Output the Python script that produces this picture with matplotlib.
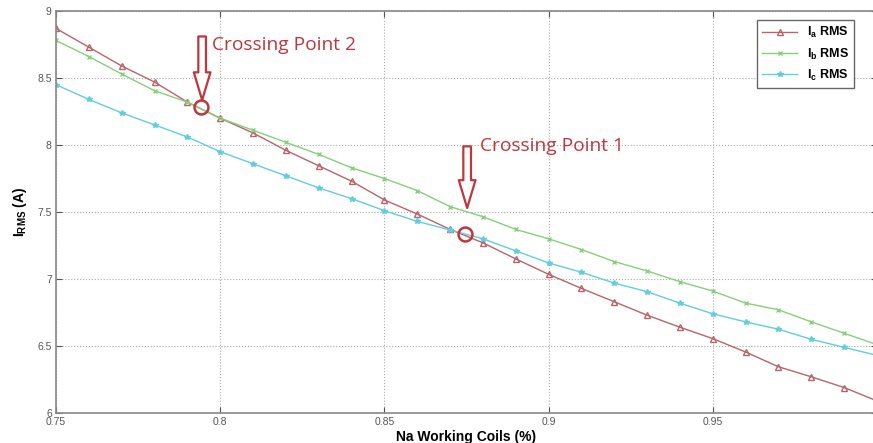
import matplotlib
matplotlib.use("Agg")
import matplotlib.pyplot as plt
import numpy as np

plt.rcParams['font.family'] = ['Liberation Sans', 'DejaVu Sans']
plt.rcParams['mathtext.fontset'] = 'custom'
plt.rcParams['mathtext.rm'] = 'Liberation Sans'
plt.rcParams['mathtext.bf'] = 'Liberation Sans:bold'
plt.rcParams['mathtext.it'] = 'Liberation Sans:italic'

x = [0.75, 0.76, 0.77, 0.78, 0.79, 0.80, 0.81, 0.82, 0.83, 0.84, 0.85, 0.86, 0.87,
     0.88, 0.89, 0.90, 0.91, 0.92, 0.93, 0.94, 0.95, 0.96, 0.97, 0.98, 0.99, 1.00]
ia = [8.87, 8.73, 8.59, 8.47, 8.32, 8.20, 8.09, 7.96, 7.845, 7.73, 7.59, 7.485, 7.37,
      7.27, 7.15, 7.035, 6.93, 6.83, 6.73, 6.64, 6.555, 6.455, 6.345, 6.27, 6.19, 6.09]
ib = [8.78, 8.66, 8.53, 8.405, 8.32, 8.20, 8.11, 8.02, 7.93, 7.83, 7.75, 7.66, 7.54,
      7.465, 7.37, 7.30, 7.22, 7.13, 7.06, 6.98, 6.91, 6.82, 6.77, 6.68, 6.595, 6.51]
ic = [8.45, 8.34, 8.24, 8.15, 8.06, 7.95, 7.86, 7.77, 7.68, 7.60, 7.51, 7.43, 7.366,
      7.30, 7.21, 7.12, 7.05, 6.97, 6.905, 6.82, 6.74, 6.68, 6.625, 6.55, 6.49, 6.43]

labels = [r'$\mathbf{I_a}$ RMS', r'$\mathbf{I_b}$ RMS', r'$\mathbf{I_c}$ RMS']
colors = ['#b8646a', '#86d07a', '#62cde0']
red = '#c0363c'

fig = plt.figure(figsize=(8.73, 4.43), dpi=100)
ax = fig.add_axes([56/873, 1-413/443, 821/873, 402/443])

ax.plot(x, ia, color=colors[0], marker='^', mfc='none', mec=colors[0], ms=5, lw=1, label=labels[0])
ax.plot(x, ib, color=colors[1], marker='x', ms=3.5, lw=1, label=labels[1])
ax.plot(x, ic, color=colors[2], marker='*', ms=4, lw=1, label=labels[2])

ax.set_xlim(0.75, 1.0)
ax.set_ylim(6, 9)
ax.set_xticks([0.75, 0.8, 0.85, 0.9, 0.95, 1.0])
ax.set_xticklabels(['0.75', '0.8', '0.85', '0.9', '0.95', ''])
ax.set_yticks([6, 6.5, 7, 7.5, 8, 8.5, 9])
ax.set_yticklabels(['6', '6.5', '7', '7.5', '8', '8.5', '9'])
ax.grid(True, linestyle=':', color='#aaaaaa', lw=0.8)
ax.tick_params(direction='in', top=True, right=True, labelsize=7.5, colors='#555555',
               length=4, pad=3)
for s in ax.spines.values():
    s.set_color('#888888')
    s.set_linewidth(1.2)

ax.set_xlabel('Na Working Coils (%)', fontsize=10, fontweight='bold', labelpad=2)
ax.set_ylabel(r'$\mathbf{I_{RMS}}$ $\mathbf{(A)}$', fontsize=10, labelpad=6)

leg = ax.legend(loc='upper left', bbox_to_anchor=(0.8465, 0.993), fontsize=9,
                fancybox=False, edgecolor='#666666', framealpha=1,
                handlelength=2.8, borderpad=0.4, labelspacing=0.5)
for t in leg.get_texts():
    t.set_fontweight('bold')

# crossing points
for (cx, cy, ax0, ay0, ay1, tx, ty, txt) in [
        (0.7942, 8.28, 0.7945, 8.81, 8.335, 0.7975, 8.75, 'Crossing Point 2'),
        (0.8745, 7.335, 0.8752, 7.99, 7.53, 0.8790, 7.99, 'Crossing Point 1')]:
    ax.plot([cx], [cy], marker='o', ms=10, mfc='none', mec=red, mew=1.8)
    ax.annotate('', xy=(ax0, ay1), xytext=(ax0, ay0),
                arrowprops=dict(arrowstyle='simple,head_length=20,head_width=12,tail_width=5.5',
                                mutation_scale=1, fc='white', ec=red, lw=1.6,
                                shrinkA=0, shrinkB=0))
    ax.text(tx, ty, txt, color=red, fontsize=13.8, family='Open Sans', va='center', ha='left')

fig.savefig('out.png', dpi=100)
